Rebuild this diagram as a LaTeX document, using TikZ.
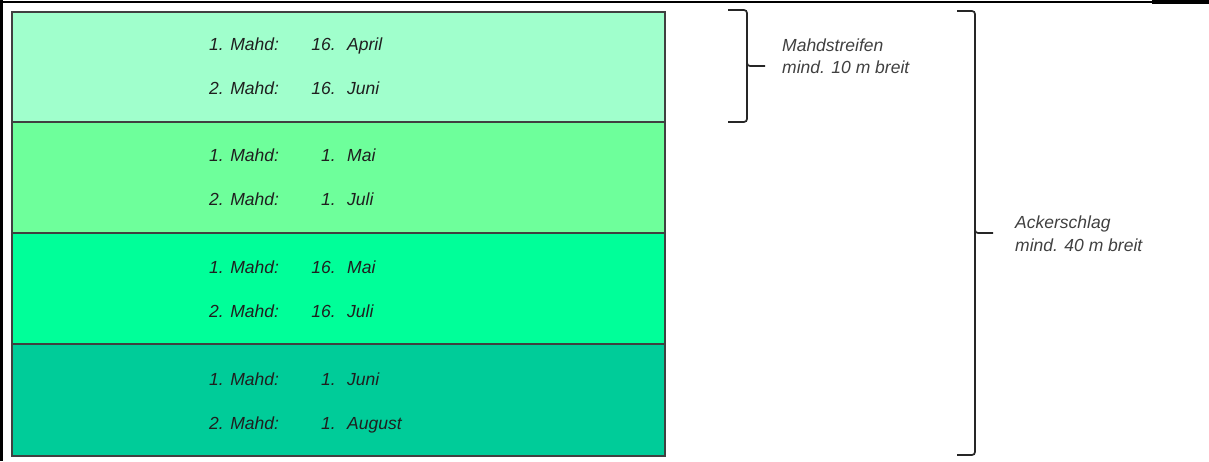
\documentclass[tikz,border=0pt]{standalone}
\usepackage{fontspec}
\setmainfont{Liberation Sans}
\begin{document}
\begin{tikzpicture}[x=1pt,y=-1pt,
  band/.style={draw=black!75, line width=1.9pt, inner sep=0pt, minimum width=653pt, anchor=north west},
  lbl/.style={inner sep=0pt, font=\fontsize{17.5}{21}\selectfont\itshape, text=black!88},
  side/.style={inner sep=0pt, font=\fontsize{17.5}{21}\selectfont\itshape, text=black!75, anchor=base west},
  brace/.style={draw=black!85, line width=1.7pt, rounded corners=3pt}]
\useasboundingbox (0,0) rectangle (1209,461);
\definecolor{bA}{RGB}{160,255,204}
\definecolor{bB}{RGB}{110,255,155}
\definecolor{bC}{RGB}{0,255,153}
\definecolor{bD}{RGB}{0,204,153}
% frame
\draw[line width=2pt] (0,1.5) -- (1209,1.5);
\draw[line width=3.5pt] (1152,1.75) -- (1209,1.75);
\draw[line width=2.2pt] (1.5,0) -- (1.5,461);
% bands
\node[band, fill=bA, minimum height=110pt] (b1) at (11,11) {};
\node[band, fill=bB, minimum height=111pt] (b2) at (11,121) {};
\node[band, fill=bC, minimum height=111pt] (b3) at (11,232) {};
\node[band, fill=bD, minimum height=112pt] (b4) at (11,343) {};
% texts
\foreach \n/\y/\da/\ma/\db/\mb in {1/50/16./April/16./Juni, 2/161/1./Mai/1./Juli, 3/273/16./Mai/16./Juli, 4/385/1./Juni/1./August}{
  \node[lbl, anchor=base west] (r\n a) at (209,\y) {1. Mahd:};
  \node[lbl, anchor=base east] (d\n a) at (336,\y) {\da};
  \node[lbl, anchor=base west] (m\n a) at (347,\y) {\ma};
  \node[lbl, anchor=base west] (r\n b) at (209,\y+44) {2. Mahd:};
  \node[lbl, anchor=base east] (d\n b) at (336,\y+44) {\db};
  \node[lbl, anchor=base west] (m\n b) at (347,\y+44) {\mb};
}
% small brace
\draw[brace] (728,10) -- (747,10) -- (747,66) -- (765,66);
\draw[brace] (747,60) -- (747,122) -- (728,122);
% big brace
\draw[brace] (957,11) -- (975,11) -- (975,233) -- (993,233);
\draw[brace] (975,227) -- (975,455) -- (957,455);
% side labels
\node[side] (s1) at (782,51) {Mahdstreifen};
\node[side] (s2) at (782,73) {mind. 10 m breit};
\node[side] (s3) at (1015,228) {Ackerschlag};
\node[side] (s4) at (1015,251) {mind. 40 m breit};
\end{tikzpicture}
\end{document}
